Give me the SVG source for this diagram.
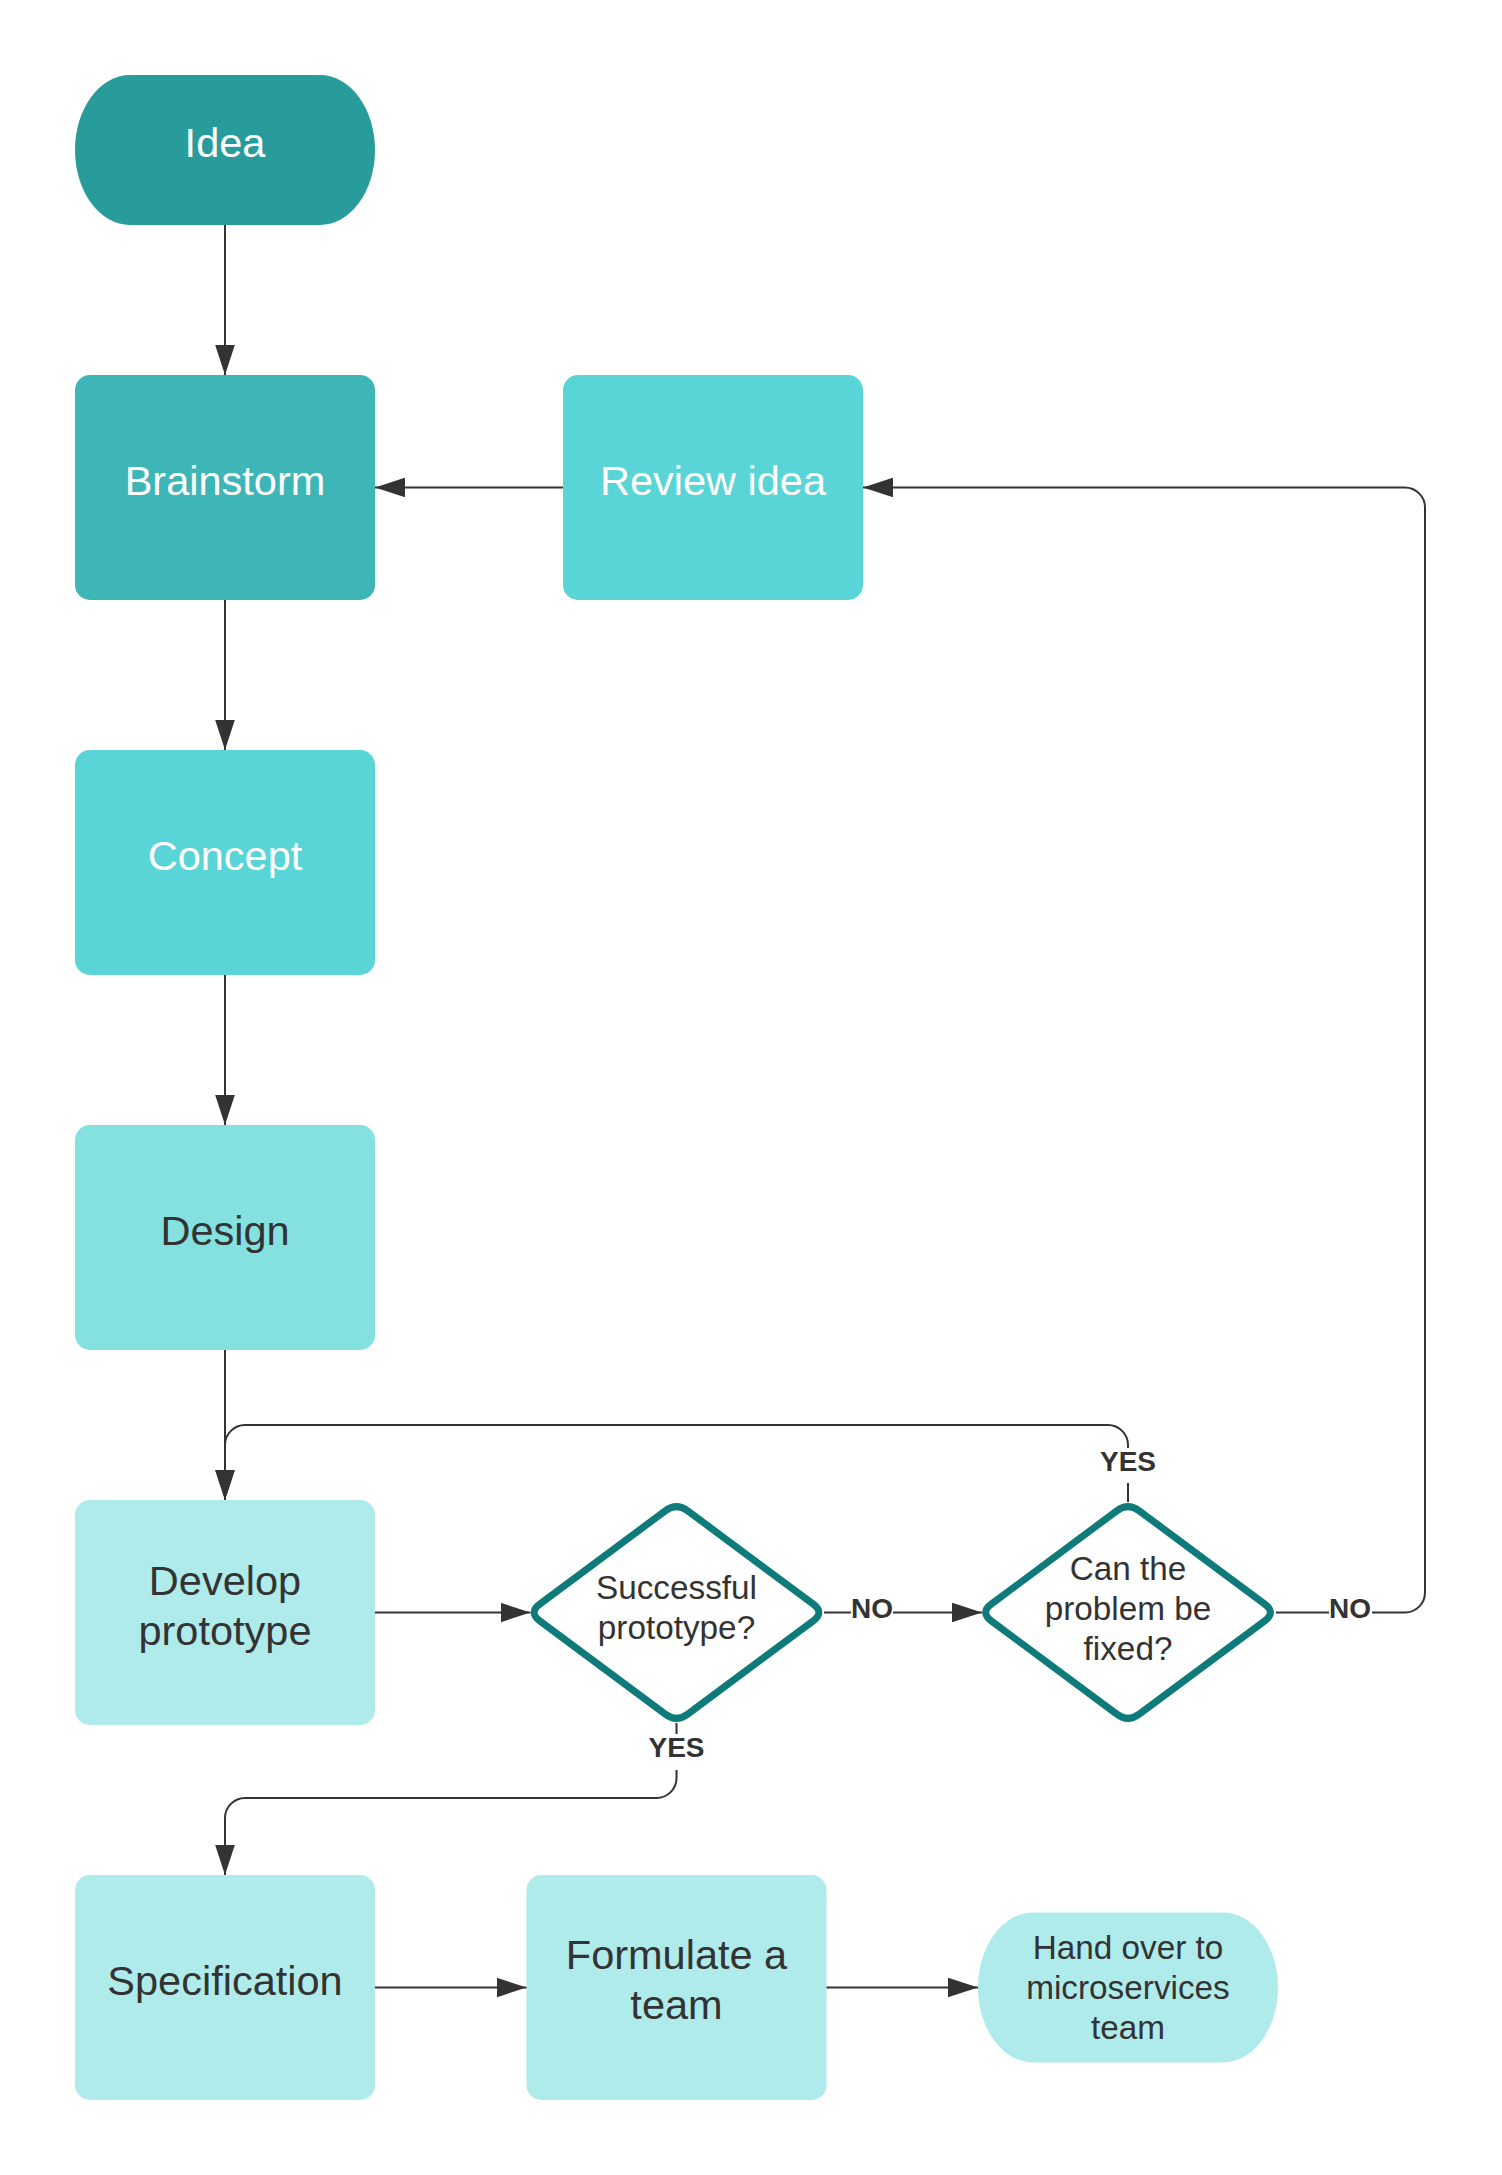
<svg xmlns="http://www.w3.org/2000/svg" xmlns:xlink="http://www.w3.org/1999/xlink" width="1502" height="2175" viewBox="0 0 1502 2175">
<style>
.t{font-family:"Liberation Sans",Arial,sans-serif;text-anchor:middle}
.big{font-size:41.5px}
.mid{font-size:33.3px}
.lbl{font-size:28px;font-weight:bold;fill:#333333}
.w{fill:#ffffff}
.d{fill:#333333}
.con{fill:none;stroke:#333333;stroke-width:2}
.dia{fill:#ffffff;stroke:#0E7B7A;stroke-width:7}
</style>
<defs>
<marker id="ah" markerUnits="userSpaceOnUse" markerWidth="30" markerHeight="20" viewBox="0 0 29 19" refX="29" refY="9.5" orient="auto">
<path d="M0,0 L29,9.5 L0,19 Z" fill="#333333"/>
</marker>
<path id="diamond" d="M-136.76,-8.35 L-11.24,-101.65 Q0,-110 11.24,-101.65 L136.76,-8.35 Q148,0 136.76,8.35 L11.24,101.65 Q0,110 -11.24,101.65 L-136.76,8.35 Q-148,0 -136.76,-8.35 Z"/>
</defs>
<rect width="1502" height="2175" fill="#ffffff"/>
<g id="connectors">
<path class="con" d="M225,225 V375" marker-end="url(#ah)"/>
<path class="con" d="M563,487.5 H375" marker-end="url(#ah)"/>
<path class="con" d="M225,600 V750" marker-end="url(#ah)"/>
<path class="con" d="M225,975 V1125" marker-end="url(#ah)"/>
<path class="con" d="M225,1350 V1500" marker-end="url(#ah)"/>
<path class="con" d="M375,1612.5 H530.5" marker-end="url(#ah)"/>
<path class="con" d="M824,1612.5 H851 M893,1612.5 H982" marker-end="url(#ah)"/>
<path class="con" d="M1276,1612.5 H1329 M1372,1612.5 H1405 A20,20 0 0 0 1425,1592.5 V507.5 A20,20 0 0 0 1405,487.5 H863" marker-end="url(#ah)"/>
<path class="con" d="M1128,1502 V1483 M1128,1448 V1445 A20,20 0 0 0 1108,1425 H245 A20,20 0 0 0 225,1445 V1500" marker-end="url(#ah)"/>
<path class="con" d="M676.5,1723 V1734 M676.5,1770 V1778 A20,20 0 0 1 656.5,1798 H245 A20,20 0 0 0 225,1818 V1875" marker-end="url(#ah)"/>
<text class="t lbl" x="872" y="1617.5">NO</text>
<text class="t lbl" x="1350" y="1617.5">NO</text>
<text class="t lbl" x="1128" y="1471">YES</text>
<text class="t lbl" x="676.5" y="1757">YES</text>
</g>
<g id="idea">
<rect x="75" y="75" width="300" height="150" rx="55" ry="75" fill="#279C9B"/>
<text class="t big w" x="225" y="157">Idea</text>
</g>
<g id="brainstorm">
<rect x="75" y="375" width="300" height="225" rx="15" fill="#3EB6B7"/>
<text class="t big w" x="225" y="495">Brainstorm</text>
</g>
<g id="review-idea">
<rect x="563" y="375" width="300" height="225" rx="15" fill="#5AD5D7"/>
<text class="t big w" x="713" y="495">Review idea</text>
</g>
<g id="concept">
<rect x="75" y="750" width="300" height="225" rx="15" fill="#5AD5D7"/>
<text class="t big w" x="225" y="870">Concept</text>
</g>
<g id="design">
<rect x="75" y="1125" width="300" height="225" rx="15" fill="#84E1E0"/>
<text class="t big d" x="225" y="1245">Design</text>
</g>
<g id="develop-prototype">
<rect x="75" y="1500" width="300" height="225" rx="15" fill="#AFEBEA"/>
<text class="t big d" x="225" y="1594.5">Develop</text>
<text class="t big d" x="225" y="1644.5">prototype</text>
</g>
<g id="successful-prototype">
<use xlink:href="#diamond" href="#diamond" class="dia" transform="translate(676.5,1612.5)"/>
<text class="t mid d" x="676.5" y="1599">Successful</text>
<text class="t mid d" x="676.5" y="1639">prototype?</text>
</g>
<g id="can-be-fixed">
<use xlink:href="#diamond" href="#diamond" class="dia" transform="translate(1128,1612.5)"/>
<text class="t mid d" x="1128" y="1580">Can the</text>
<text class="t mid d" x="1128" y="1620">problem be</text>
<text class="t mid d" x="1128" y="1660">fixed?</text>
</g>
<g id="specification">
<rect x="75" y="1875" width="300" height="225" rx="15" fill="#AFEBEA"/>
<text class="t big d" x="225" y="1995">Specification</text>
</g>
<g id="formulate-team">
<rect x="526.5" y="1875" width="300" height="225" rx="15" fill="#AFEBEA"/>
<text class="t big d" x="676.5" y="1969">Formulate a</text>
<text class="t big d" x="676.5" y="2019">team</text>
</g>
<g id="hand-over">
<rect x="978" y="1912.5" width="300" height="150" rx="55" ry="75" fill="#AFEBEA"/>
<text class="t mid d" x="1128" y="1959">Hand over to</text>
<text class="t mid d" x="1128" y="1999">microservices</text>
<text class="t mid d" x="1128" y="2039">team</text>
</g>
<g id="bottom-connectors">
<path class="con" d="M375,1987.5 H526.5" marker-end="url(#ah)"/>
<path class="con" d="M826.5,1987.5 H978" marker-end="url(#ah)"/>
</g>
</svg>
